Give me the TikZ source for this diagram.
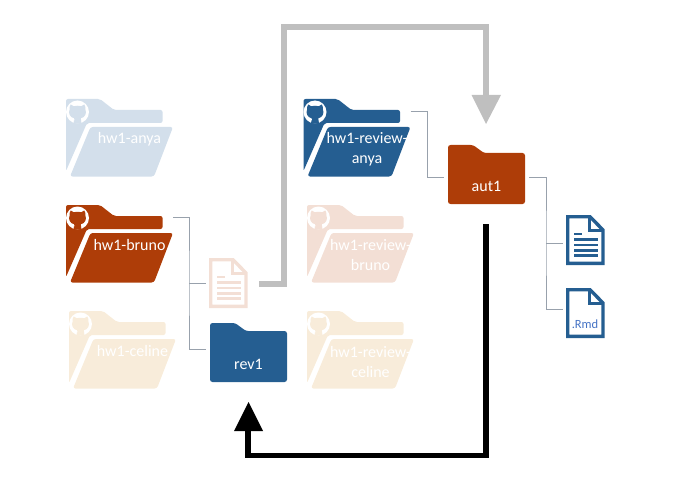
\documentclass[tikz,border=0pt]{standalone}
\usepackage{fontspec}
\setmainfont{Carlito}
\definecolor{fblue}{HTML}{255E91}
\definecolor{forange}{HTML}{AE3D08}
\definecolor{lblue}{HTML}{D3DFEB}
\definecolor{lorange}{HTML}{F3DFD5}
\definecolor{lyellow}{HTML}{F8ECDA}
\definecolor{conn}{HTML}{98A1AC}
\definecolor{garrow}{HTML}{BFBFBF}
\definecolor{rmdblue}{HTML}{4472C4}
\tikzset{
  foldertext/.style={text=white,font=\fontsize{16}{20}\selectfont,align=center,inner sep=0pt},
  connector/.style={draw=conn,line width=0.9pt},
  bigarrow/.style={line width=5.5pt,miter limit=10},
}
% #1 name, #2 x, #3 y, #4 colour, #5 label centre y (relative), #6 label
\newcommand{\ghfolder}[6]{
  \begin{scope}[shift={(#2,#3)}]
    \fill[#4,rounded corners=2pt] (0,0) -- (34,0) -- (48,11) -- (96.5,11) -- (96.5,24) -- (21,24) -- (0,72) -- cycle;
    \fill[#4,rounded corners=2.5pt] (24.5,28) -- (107,28) -- (88,77.5) -- (4,77.5) -- cycle;
    \fill[white] (11.5,13) circle (11.5);
    \fill[#4] (4.6,5.5) -- (7.8,7.2) .. controls (10.5,6.6) and (12.5,6.6) .. (15.2,7.2) -- (18.4,5.5)
      .. controls (19.6,8) and (19.7,9.5) .. (19.4,10.5) .. controls (21,14) and (19,18.6) .. (14.8,19.3)
      -- (15.5,24.7) -- (7.5,24.7) -- (8.2,19.3) .. controls (4,18.6) and (2,14) .. (3.6,10.5)
      .. controls (3.3,9.5) and (3.4,8) .. (4.6,5.5) -- cycle;
    \draw[white,line width=1.3pt] (3.5,18.8) .. controls (5,20.8) and (6,21.3) .. (8.3,20.8);
    \node[foldertext] (#1) at (63.5,#5) {#6};
    \coordinate (#1-out) at (107,12);
  \end{scope}
}
% #1 name, #2 x, #3 y, #4 colour, #5 label
\newcommand{\plainfolder}[5]{
  \begin{scope}[shift={(#2,#3)}]
    \fill[#4,rounded corners=2.5pt] (0,0) -- (25,0) -- (36,8) -- (77,8) -- (77,59) -- (0,59) -- cycle;
    \node[foldertext] (#1) at (38.5,41) {#5};
    \coordinate (#1-out) at (81,32);
  \end{scope}
}
% #1 name, #2 x, #3 y, #4 colour
\newcommand{\docicon}[4]{
  \begin{scope}[shift={(#2,#3)}]
    \draw[#4,line width=3.4pt,miter limit=4] (1.7,1.7) -- (24,1.7) -- (37,15) -- (37,48.3) -- (1.7,48.3) -- cycle;
    \draw[#4,line width=3pt] (23.5,1.7) -- (23.5,15) -- (37,15);
    \coordinate (#1-in) at (-3,25);
    \coordinate (#1-out) at (50,26);
  \end{scope}
}
\newcommand{\doclines}[3]{
  \begin{scope}[shift={(#1,#2)}]
    \draw[#3,line width=2.1pt] (8,19) -- (16,19) (8,24.5) -- (32,24.5) (8,30) -- (32,30) (8,35.5) -- (32,35.5) (8,40.5) -- (32,40.5);
  \end{scope}
}
\begin{document}
\begin{tikzpicture}[x=1pt,y=-1pt]
  \useasboundingbox (0,0) rectangle (680,500);
  \ghfolder{anya}{66}{99}{lblue}{40}{hw1-anya}
  \ghfolder{bruno}{66}{205}{forange}{40}{hw1-bruno}
  \ghfolder{celine}{69}{311}{lyellow}{40}{hw1-celine}
  \ghfolder{ranya}{303.5}{99}{fblue}{50.5}{hw1-review-\\anya}
  \ghfolder{rbruno}{307}{205}{lorange}{50.5}{hw1-review-\\bruno}
  \ghfolder{rceline}{307}{311}{lyellow}{50.5}{hw1-review-\\celine}

  \plainfolder{rev}{210}{323}{fblue}{rev1}
  \plainfolder{aut}{448}{145}{forange}{aut1}

  \docicon{fb}{209}{258}{lorange}
  \doclines{209}{258}{lorange}
  \docicon{report}{566}{215}{fblue}
  \doclines{566}{215}{fblue}
  \docicon{rmd}{566}{288}{fblue}
  \node[font=\fontsize{12.5}{13}\selectfont,text=rmdblue,inner sep=0pt] (rmdlabel) at (585,324.5) {.Rmd};

  % thin connectors
  \coordinate (j1) at (189,283);
  \coordinate (j2) at (427,177);
  \coordinate (j3) at (546,243);
  \coordinate (j4) at (563,309);
  \coordinate (j5) at (563,243);
  \coordinate (j6) at (444,177);
  \coordinate (j7) at (206,349);
  \draw[connector] (bruno-out) -| (j1) |- (j7);
  \draw[connector] (j1) -- (fb-in);
  \draw[connector] (ranya-out) -| (j2) -- (j6);
  \draw[connector] (aut-out) -| (j3) |- (j4);
  \draw[connector] (j3) -- (j5);

  % heavy arrows
  \coordinate (g1) at (284,27);
  \coordinate (g2) at (486,27);
  \coordinate (gtip) at (486,124);
  \coordinate (gbase) at (486,95);
  \draw[bigarrow,garrow] (fb-out) -| (g1) -- (g2) -- (gbase);
  \fill[garrow] (471.5,95) -- (501,95) -- (gtip) -- cycle;
  \coordinate (kstart) at (486,224);
  \coordinate (k1) at (486,455.5);
  \coordinate (k2) at (248,455.5);
  \coordinate (kbase) at (248,431);
  \coordinate (ktip) at (248.5,402);
  \draw[bigarrow,black] (kstart) -- (k1) -- (k2) -- (kbase);
  \fill[black] (234,431) -- (263,431) -- (ktip) -- cycle;
\end{tikzpicture}
\end{document}
